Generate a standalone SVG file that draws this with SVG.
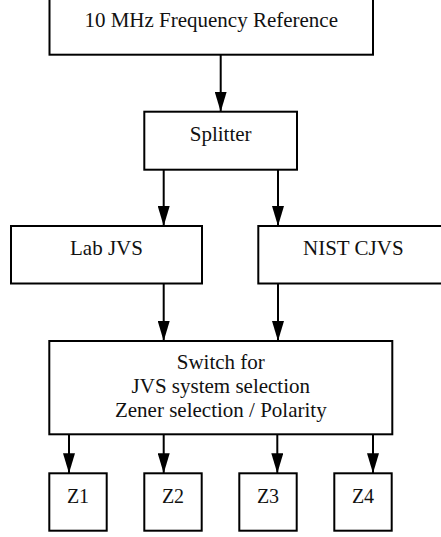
<svg xmlns="http://www.w3.org/2000/svg" width="441" height="537" viewBox="0 0 441 537">
<style>
.box{fill:#fff;stroke:#000;stroke-width:2}
.lbl{font-family:'Liberation Serif','DejaVu Serif',serif;font-size:21px;fill:#111;text-anchor:middle}
.zl{font-size:20px}
.edge{stroke:#000;stroke-width:2;fill:none}
</style>
<defs>
<marker id="ah" viewBox="0 0 20 12" refX="20" refY="6" markerWidth="20" markerHeight="12" markerUnits="userSpaceOnUse" orient="auto">
<path d="M0,0 L20,6 L0,12 z" fill="#000"/>
</marker>
</defs>
<rect width="441" height="537" fill="#fff"/>
<g id="connectors">
<line class="edge" x1="220.7" y1="54.7" x2="220.7" y2="111.7" marker-end="url(#ah)"/>
<line class="edge" x1="163.7" y1="169.7" x2="163.7" y2="226" marker-end="url(#ah)"/>
<line class="edge" x1="278" y1="169.7" x2="278" y2="226" marker-end="url(#ah)"/>
<line class="edge" x1="163.7" y1="283.5" x2="163.7" y2="341" marker-end="url(#ah)"/>
<line class="edge" x1="278" y1="283.5" x2="278" y2="341" marker-end="url(#ah)"/>
<line class="edge" x1="69" y1="434.3" x2="69" y2="473.3" marker-end="url(#ah)"/>
<line class="edge" x1="163.7" y1="434.3" x2="163.7" y2="473.3" marker-end="url(#ah)"/>
<line class="edge" x1="277.3" y1="434.3" x2="277.3" y2="473.3" marker-end="url(#ah)"/>
<line class="edge" x1="373" y1="434.3" x2="373" y2="473.3" marker-end="url(#ah)"/>
</g>
<g id="ref">
<rect class="box" x="49.5" y="-10" width="323.5" height="64.7"/>
<text class="lbl" font-family="Liberation Serif, serif" x="211.2" y="27.3">10 MHz Frequency Reference</text>
</g>
<g id="splitter">
<rect class="box" x="144.3" y="111.7" width="152.7" height="58"/>
<text class="lbl" x="220.7" y="141">Splitter</text>
</g>
<g id="labjvs">
<rect class="box" x="11" y="226" width="191" height="57.5"/>
<text class="lbl" x="106.5" y="255">Lab JVS</text>
</g>
<g id="nistcjvs">
<rect class="box" x="258.3" y="226" width="200" height="57.5"/>
<text class="lbl" x="353.3" y="255">NIST CJVS</text>
</g>
<g id="switch">
<rect class="box" x="49.3" y="341" width="343" height="93.3"/>
<text class="lbl" x="220.8" y="369">Switch for</text>
<text class="lbl" x="220.8" y="393">JVS system selection</text>
<text class="lbl" x="220.8" y="417">Zener selection / Polarity</text>
</g>
<g id="z1">
<rect class="box" x="49.3" y="473.3" width="57.4" height="57.4"/>
<text class="lbl zl" x="78" y="502.5">Z1</text>
</g>
<g id="z2">
<rect class="box" x="144.3" y="473.3" width="57.4" height="57.4"/>
<text class="lbl zl" x="173" y="502.5">Z2</text>
</g>
<g id="z3">
<rect class="box" x="239.3" y="473.3" width="57.4" height="57.4"/>
<text class="lbl zl" x="268" y="502.5">Z3</text>
</g>
<g id="z4">
<rect class="box" x="334.3" y="473.3" width="57.4" height="57.4"/>
<text class="lbl zl" x="363" y="502.5">Z4</text>
</g>
</svg>
